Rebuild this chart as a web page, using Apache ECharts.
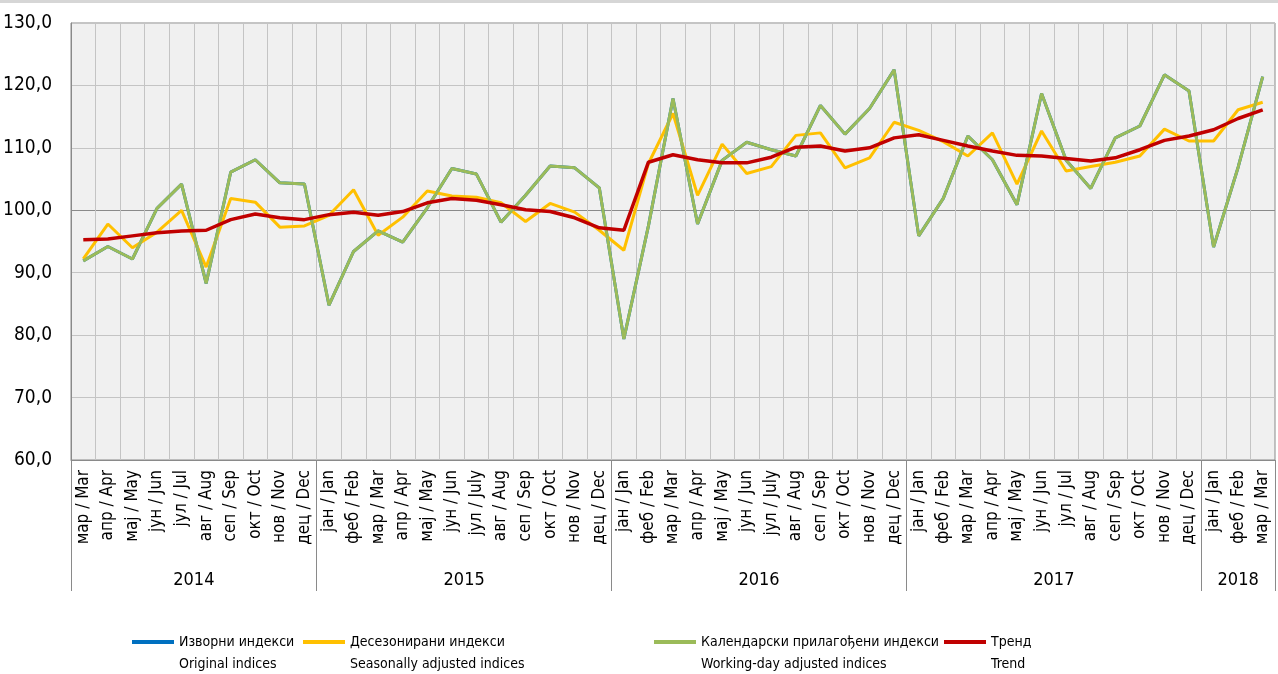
<!DOCTYPE html>
<html>
<head>
<meta charset="utf-8">
<script src="https://cdn.jsdelivr.net/npm/echarts@6/dist/echarts.min.js"></script>
<style>
html,body{margin:0;padding:0;background:#fff;}
#chart{width:1278px;height:674px;}
</style>
</head>
<body>
<div id="chart"></div>
<script>
const months = [
 'мар / Mar','апр / Apr','мај / May','јун / Jun','јул / Jul','авг / Aug','сеп / Sep','окт / Oct','нов / Nov','дец / Dec',
 'јан / Jan','феб / Feb','мар / Mar','апр / Apr','мај / May','јун / Jun','јул / July','авг / Aug','сеп / Sep','окт / Oct','нов / Nov','дец / Dec',
 'јан / Jan','феб / Feb','мар / Mar','апр / Apr','мај / May','јун / Jun','јул / July','авг / Aug','сеп / Sep','окт / Oct','нов / Nov','дец / Dec',
 'јан / Jan','феб / Feb','мар / Mar','апр / Apr','мај / May','јун / Jun','јул / Jul','авг / Aug','сеп / Sep','окт / Oct','нов / Nov','дец / Dec',
 'јан / Jan','феб / Feb','мар / Mar'
];
const years = ['2014','2015','2016','2017','2018'];
const yearSpans = [10,12,12,12,3];
const yTicks = [60,70,80,90,100,110,120,130];

const workingDay = [
 91.9,94.2,92.2,100.3,104.2,88.3,106.1,108.1,104.4,104.2,
 84.8,93.4,96.7,94.9,100.4,106.7,105.8,98.1,102.4,107.1,106.8,103.6,
 79.4,97.5,117.9,97.8,108.0,110.9,109.7,108.7,116.8,112.2,116.3,122.5,
 95.9,101.9,111.9,108.1,100.9,118.7,108.0,103.5,111.6,113.5,121.7,119.1,
 94.1,106.9,121.4
];
const original = workingDay.slice();
const seasonal = [
 92.2,97.8,94.0,96.5,100.0,90.9,101.9,101.3,97.3,97.5,
 99.2,103.3,96.0,98.9,103.1,102.3,102.1,101.2,98.2,101.1,99.7,96.8,
 93.6,107.5,115.5,102.4,110.6,105.9,107.0,112.0,112.4,106.8,108.4,114.1,
 112.8,111.0,108.7,112.4,104.2,112.7,106.3,107.0,107.7,108.7,113.0,111.1,
 111.1,116.1,117.3
];
const trend = [
 95.3,95.4,95.9,96.4,96.7,96.8,98.5,99.4,98.8,98.5,
 99.3,99.7,99.2,99.8,101.2,101.9,101.6,100.9,100.1,99.8,98.8,97.2,
 96.8,107.7,108.9,108.1,107.6,107.6,108.5,110.1,110.3,109.5,110.0,111.6,
 112.1,111.2,110.3,109.5,108.8,108.7,108.3,107.9,108.4,109.7,111.2,111.9,
 112.9,114.7,116.1
];
const seriesNames = ['Изворни индекси','Десезонирани индекси','Календарски прилагођени индекси','Тренд'];
const seriesNamesEn = ['Original indices','Seasonally adjusted indices','Working-day adjusted indices','Trend'];

const yearStarts = [];
const yearCenters = [];
let acc = 0;
yearSpans.forEach(s => { yearStarts.push(acc); yearCenters.push(acc + s / 2); acc += s; });

const FONT = "'Liberation Sans Narrow','Arial Narrow','DejaVu Sans Condensed',sans-serif";

const chart = echarts.init(document.getElementById('chart'));
const colors = ['#0070c0','#ffc000','#9bbb59','#c00000'];
const widths = [3,3,3,3.5];
const datasets = [original, seasonal, workingDay, trend];
const legendLeft = [127, 298, 649, 939];

chart.setOption({
  animation: false,
  textStyle: {fontFamily: FONT},
  graphic: [{type:'rect', shape:{x:0,y:0,width:1278,height:3}, style:{fill:'#d6d6d6'}}],
  grid: {left:71, right:1, top:23, bottom:214, show:true, backgroundColor:'#f0f0f0', borderColor:'#8a8a8a', borderWidth:1},
  legend: seriesNames.map((n, k) => ({
    left: legendLeft[k], top: 604, itemWidth: 42, itemHeight: 4, icon: 'rect', itemGap: 6,
    data: [n],
    formatter: nm => ' \n' + nm + '\n' + seriesNamesEn[seriesNames.indexOf(nm)],
    textStyle: {fontFamily: FONT, fontSize: 14, color:'#000', lineHeight: 22}
  })),
  xAxis: [{
    type: 'category', data: months, boundaryGap: true,
    axisLine: {show:true, lineStyle:{color:'#8a8a8a', width:1}},
    axisTick: {show:true, length:131, interval: (i) => yearStarts.indexOf(i) >= 0, lineStyle:{color:'#8a8a8a'}},
    axisLabel: {interval:0, rotate:90, fontSize:17, color:'#000', margin:10, fontFamily: FONT},
    splitLine: {show:true, interval:0, lineStyle:{color:'#c4c4c4', width:1}}
  },{
    type: 'value', min: 0, max: 49, interval: 0.5, position:'bottom',
    axisLine:{show:false}, axisTick:{show:false}, splitLine:{show:false},
    axisLabel: {
      margin: 111, fontSize: 18, color:'#000', fontFamily: FONT,
      formatter: v => { const k = yearCenters.findIndex(c => Math.abs(c - v) < 1e-6); return k >= 0 ? years[k] : ''; }
    }
  }],
  yAxis: {
    type: 'value', min: yTicks[0], max: yTicks[yTicks.length-1], interval: 10,
    axisLine: {show:true, lineStyle:{color:'#8a8a8a'}},
    axisTick: {show:false},
    axisLabel: {fontSize:19, color:'#000', margin:19, fontFamily: FONT, formatter: v => v.toFixed(1).replace('.', ',')},
    splitLine: {show:true, lineStyle:{color: yTicks.map(t => t === 100 ? '#8a8a8a' : '#c4c4c4'), width:1}}
  },
  series: seriesNames.map((n, k) => ({
    name: n, type: 'line', data: datasets[k], xAxisIndex: 0,
    symbol: 'none', showSymbol: false,
    lineStyle: {color: colors[k], width: widths[k]},
    itemStyle: {color: colors[k]},
    z: 2 + k
  }))
});
</script>
</body>
</html>
